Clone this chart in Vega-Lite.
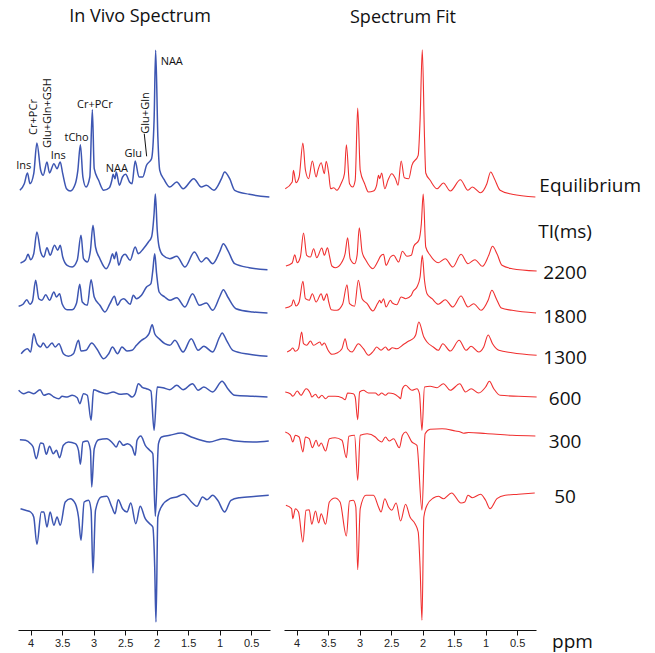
{
  "$schema": "https://vega.github.io/schema/vega-lite/v6.json",
  "background": "white",
  "padding": {"left": 15, "top": 8, "right": 2, "bottom": 2},
  "spacing": 10,
  "config": {
    "view": {"stroke": null},
    "font": "Open Sans",
    "title": {"fontSize": 18, "fontWeight": "normal", "color": "#111", "font": "Open Sans", "baseline": "alphabetic", "offset": 21, "anchor": "middle"},
    "axisX": {"labelOverlap": false, "labelFlush": false, "labelSeparation": 0}
  },
  "datasets": {
    "blue": [
      {"s":"Eq","ppm":4.17,"v":439.7},{"s":"Eq","ppm":4.10,"v":446.3},{"s":"Eq","ppm":4.05,"v":457},{"s":"Eq","ppm":4.01,"v":446.3},{"s":"Eq","ppm":3.95,"v":456.3},{"s":"Eq","ppm":3.90,"v":487},{"s":"Eq","ppm":3.84,"v":459.7},{"s":"Eq","ppm":3.80,"v":454.7},{"s":"Eq","ppm":3.74,"v":468},{"s":"Eq","ppm":3.70,"v":457},{"s":"Eq","ppm":3.63,"v":466.3},{"s":"Eq","ppm":3.58,"v":461.3},{"s":"Eq","ppm":3.53,"v":468},{"s":"Eq","ppm":3.49,"v":456.3},{"s":"Eq","ppm":3.43,"v":441.3},{"s":"Eq","ppm":3.37,"v":439},{"s":"Eq","ppm":3.29,"v":446.3},{"s":"Eq","ppm":3.25,"v":459.7},{"s":"Eq","ppm":3.21,"v":485.3},{"s":"Eq","ppm":3.17,"v":453},{"s":"Eq","ppm":3.12,"v":443},{"s":"Eq","ppm":3.06,"v":453},{"s":"Eq","ppm":3.02,"v":520.3},{"s":"Eq","ppm":2.99,"v":461.3},{"s":"Eq","ppm":2.92,"v":449.7},{"s":"Eq","ppm":2.84,"v":439.7},{"s":"Eq","ppm":2.75,"v":442.3},{"s":"Eq","ppm":2.71,"v":449.7},{"s":"Eq","ppm":2.69,"v":455.7},{"s":"Eq","ppm":2.66,"v":451.3},{"s":"Eq","ppm":2.64,"v":458},{"s":"Eq","ppm":2.59,"v":444.7},{"s":"Eq","ppm":2.54,"v":453},{"s":"Eq","ppm":2.49,"v":455.7},{"s":"Eq","ppm":2.43,"v":448},{"s":"Eq","ppm":2.39,"v":446.3},{"s":"Eq","ppm":2.34,"v":469},{"s":"Eq","ppm":2.28,"v":453},{"s":"Eq","ppm":2.22,"v":453},{"s":"Eq","ppm":2.16,"v":464.7},{"s":"Eq","ppm":2.08,"v":471.3},{"s":"Eq","ppm":2.04,"v":509.7},{"s":"Eq","ppm":2.015,"v":579.7},{"s":"Eq","ppm":1.98,"v":493},{"s":"Eq","ppm":1.95,"v":459.7},{"s":"Eq","ppm":1.88,"v":450.3},{"s":"Eq","ppm":1.79,"v":443},{"s":"Eq","ppm":1.68,"v":448},{"s":"Eq","ppm":1.58,"v":441.3},{"s":"Eq","ppm":1.41,"v":451.3},{"s":"Eq","ppm":1.29,"v":443},{"s":"Eq","ppm":1.21,"v":444.7},{"s":"Eq","ppm":1.09,"v":439.7},{"s":"Eq","ppm":0.97,"v":451.3},{"s":"Eq","ppm":0.92,"v":458},{"s":"Eq","ppm":0.84,"v":451.3},{"s":"Eq","ppm":0.76,"v":439.7},{"s":"Eq","ppm":0.53,"v":435.7},{"s":"Eq","ppm":0.21,"v":433},
      {"s":"2200","ppm":4.16,"v":367},{"s":"2200","ppm":4.08,"v":370.3},{"s":"2200","ppm":4.04,"v":375.7},{"s":"2200","ppm":4.00,"v":370.3},{"s":"2200","ppm":3.95,"v":376.3},{"s":"2200","ppm":3.90,"v":398},{"s":"2200","ppm":3.84,"v":378},{"s":"2200","ppm":3.79,"v":373},{"s":"2200","ppm":3.74,"v":382.3},{"s":"2200","ppm":3.69,"v":374.7},{"s":"2200","ppm":3.62,"v":384.7},{"s":"2200","ppm":3.57,"v":379.7},{"s":"2200","ppm":3.53,"v":384.7},{"s":"2200","ppm":3.49,"v":373},{"s":"2200","ppm":3.42,"v":364.7},{"s":"2200","ppm":3.34,"v":363},{"s":"2200","ppm":3.26,"v":369.7},{"s":"2200","ppm":3.20,"v":394.7},{"s":"2200","ppm":3.16,"v":371.3},{"s":"2200","ppm":3.10,"v":368},{"s":"2200","ppm":3.05,"v":379.7},{"s":"2200","ppm":3.01,"v":404.7},{"s":"2200","ppm":2.97,"v":383},{"s":"2200","ppm":2.90,"v":371.3},{"s":"2200","ppm":2.80,"v":361.3},{"s":"2200","ppm":2.74,"v":368},{"s":"2200","ppm":2.70,"v":376.3},{"s":"2200","ppm":2.67,"v":371.3},{"s":"2200","ppm":2.64,"v":378},{"s":"2200","ppm":2.60,"v":364.7},{"s":"2200","ppm":2.55,"v":373},{"s":"2200","ppm":2.50,"v":375.7},{"s":"2200","ppm":2.42,"v":369.7},{"s":"2200","ppm":2.34,"v":383},{"s":"2200","ppm":2.29,"v":376.3},{"s":"2200","ppm":2.21,"v":381.3},{"s":"2200","ppm":2.13,"v":388},{"s":"2200","ppm":2.08,"v":393},{"s":"2200","ppm":2.04,"v":416.3},{"s":"2200","ppm":2.02,"v":436},{"s":"2200","ppm":1.99,"v":399.7},{"s":"2200","ppm":1.96,"v":383},{"s":"2200","ppm":1.90,"v":374.7},{"s":"2200","ppm":1.79,"v":371.3},{"s":"2200","ppm":1.68,"v":373.7},{"s":"2200","ppm":1.55,"v":363},{"s":"2200","ppm":1.40,"v":378},{"s":"2200","ppm":1.29,"v":368},{"s":"2200","ppm":1.21,"v":372.3},{"s":"2200","ppm":1.11,"v":366.3},{"s":"2200","ppm":1.00,"v":378},{"s":"2200","ppm":0.94,"v":386.3},{"s":"2200","ppm":0.87,"v":379.7},{"s":"2200","ppm":0.76,"v":366.3},{"s":"2200","ppm":0.53,"v":362.3},{"s":"2200","ppm":0.24,"v":360.3},
      {"s":"1800","ppm":4.19,"v":323.7},{"s":"1800","ppm":4.12,"v":325.7},{"s":"1800","ppm":4.06,"v":330.3},{"s":"1800","ppm":4.01,"v":325.7},{"s":"1800","ppm":3.97,"v":329},{"s":"1800","ppm":3.92,"v":349.7},{"s":"1800","ppm":3.87,"v":331.3},{"s":"1800","ppm":3.82,"v":329.7},{"s":"1800","ppm":3.76,"v":335.3},{"s":"1800","ppm":3.70,"v":329.7},{"s":"1800","ppm":3.63,"v":338},{"s":"1800","ppm":3.59,"v":333},{"s":"1800","ppm":3.54,"v":336.3},{"s":"1800","ppm":3.50,"v":326.3},{"s":"1800","ppm":3.42,"v":320.3},{"s":"1800","ppm":3.34,"v":320.3},{"s":"1800","ppm":3.27,"v":327},{"s":"1800","ppm":3.22,"v":345.7},{"s":"1800","ppm":3.18,"v":328},{"s":"1800","ppm":3.10,"v":324.7},{"s":"1800","ppm":3.04,"v":350.3},{"s":"1800","ppm":2.99,"v":333},{"s":"1800","ppm":2.90,"v":324.7},{"s":"1800","ppm":2.82,"v":318},{"s":"1800","ppm":2.74,"v":326.3},{"s":"1800","ppm":2.67,"v":333.7},{"s":"1800","ppm":2.62,"v":324.7},{"s":"1800","ppm":2.57,"v":329.7},{"s":"1800","ppm":2.52,"v":331.3},{"s":"1800","ppm":2.42,"v":325.7},{"s":"1800","ppm":2.37,"v":334.7},{"s":"1800","ppm":2.32,"v":331.3},{"s":"1800","ppm":2.24,"v":334.7},{"s":"1800","ppm":2.16,"v":343},{"s":"1800","ppm":2.09,"v":346.3},{"s":"1800","ppm":2.06,"v":359.7},{"s":"1800","ppm":2.03,"v":376.3},{"s":"1800","ppm":2.00,"v":356.3},{"s":"1800","ppm":1.96,"v":338},{"s":"1800","ppm":1.87,"v":333},{"s":"1800","ppm":1.79,"v":329.7},{"s":"1800","ppm":1.68,"v":332.3},{"s":"1800","ppm":1.55,"v":323},{"s":"1800","ppm":1.43,"v":336.3},{"s":"1800","ppm":1.32,"v":324.7},{"s":"1800","ppm":1.21,"v":327},{"s":"1800","ppm":1.11,"v":319.7},{"s":"1800","ppm":1.00,"v":333},{"s":"1800","ppm":0.94,"v":340.3},{"s":"1800","ppm":0.87,"v":333},{"s":"1800","ppm":0.74,"v":321.3},{"s":"1800","ppm":0.47,"v":318},{"s":"1800","ppm":0.24,"v":317},
      {"s":"1300","ppm":4.15,"v":276.3},{"s":"1300","ppm":4.10,"v":279.7},{"s":"1300","ppm":4.05,"v":281.3},{"s":"1300","ppm":4.00,"v":278},{"s":"1300","ppm":3.95,"v":296.3},{"s":"1300","ppm":3.90,"v":286.3},{"s":"1300","ppm":3.84,"v":283},{"s":"1300","ppm":3.80,"v":287},{"s":"1300","ppm":3.74,"v":282.3},{"s":"1300","ppm":3.66,"v":287},{"s":"1300","ppm":3.61,"v":283},{"s":"1300","ppm":3.55,"v":286.3},{"s":"1300","ppm":3.48,"v":276.3},{"s":"1300","ppm":3.40,"v":273.7},{"s":"1300","ppm":3.32,"v":276.3},{"s":"1300","ppm":3.24,"v":289.7},{"s":"1300","ppm":3.20,"v":279},{"s":"1300","ppm":3.12,"v":279.7},{"s":"1300","ppm":3.03,"v":287},{"s":"1300","ppm":2.95,"v":281.3},{"s":"1300","ppm":2.84,"v":271.3},{"s":"1300","ppm":2.76,"v":276.3},{"s":"1300","ppm":2.70,"v":283},{"s":"1300","ppm":2.62,"v":276.3},{"s":"1300","ppm":2.55,"v":283},{"s":"1300","ppm":2.47,"v":279},{"s":"1300","ppm":2.39,"v":279.7},{"s":"1300","ppm":2.32,"v":284.7},{"s":"1300","ppm":2.24,"v":289.7},{"s":"1300","ppm":2.16,"v":293},{"s":"1300","ppm":2.12,"v":296.3},{"s":"1300","ppm":2.07,"v":305.3},{"s":"1300","ppm":2.03,"v":296.3},{"s":"1300","ppm":1.96,"v":291.3},{"s":"1300","ppm":1.87,"v":286.3},{"s":"1300","ppm":1.79,"v":284.7},{"s":"1300","ppm":1.71,"v":289.7},{"s":"1300","ppm":1.58,"v":278},{"s":"1300","ppm":1.45,"v":291.3},{"s":"1300","ppm":1.34,"v":279.7},{"s":"1300","ppm":1.25,"v":283.7},{"s":"1300","ppm":1.11,"v":278},{"s":"1300","ppm":1.00,"v":293},{"s":"1300","ppm":0.96,"v":297},{"s":"1300","ppm":0.89,"v":289.7},{"s":"1300","ppm":0.79,"v":279.7},{"s":"1300","ppm":0.53,"v":275.7},{"s":"1300","ppm":0.24,"v":273.7},
      {"s":"600","ppm":4.19,"v":239.7},{"s":"600","ppm":4.11,"v":236.3},{"s":"600","ppm":4.03,"v":238},{"s":"600","ppm":3.95,"v":236.3},{"s":"600","ppm":3.85,"v":240.3},{"s":"600","ppm":3.79,"v":234.7},{"s":"600","ppm":3.71,"v":236.3},{"s":"600","ppm":3.63,"v":233},{"s":"600","ppm":3.55,"v":231.3},{"s":"600","ppm":3.50,"v":233.7},{"s":"600","ppm":3.42,"v":233},{"s":"600","ppm":3.34,"v":234.7},{"s":"600","ppm":3.26,"v":232.3},{"s":"600","ppm":3.22,"v":226.3},{"s":"600","ppm":3.16,"v":236.3},{"s":"600","ppm":3.10,"v":234.7},{"s":"600","ppm":3.04,"v":209.7},{"s":"600","ppm":3.00,"v":240.3},{"s":"600","ppm":2.90,"v":238},{"s":"600","ppm":2.79,"v":236.3},{"s":"600","ppm":2.69,"v":238},{"s":"600","ppm":2.58,"v":235.7},{"s":"600","ppm":2.47,"v":236.3},{"s":"600","ppm":2.39,"v":233},{"s":"600","ppm":2.34,"v":236.3},{"s":"600","ppm":2.29,"v":246.3},{"s":"600","ppm":2.22,"v":242.3},{"s":"600","ppm":2.16,"v":241.3},{"s":"600","ppm":2.09,"v":239},{"s":"600","ppm":2.04,"v":199.7},{"s":"600","ppm":1.99,"v":243},{"s":"600","ppm":1.90,"v":242.3},{"s":"600","ppm":1.79,"v":240.3},{"s":"600","ppm":1.68,"v":244.7},{"s":"600","ppm":1.58,"v":240.3},{"s":"600","ppm":1.43,"v":246.3},{"s":"600","ppm":1.34,"v":239.7},{"s":"600","ppm":1.25,"v":243},{"s":"600","ppm":1.11,"v":238},{"s":"600","ppm":0.96,"v":248.7},{"s":"600","ppm":0.87,"v":241.3},{"s":"600","ppm":0.76,"v":234.7},{"s":"600","ppm":0.47,"v":233.7},{"s":"600","ppm":0.24,"v":233},
      {"s":"300","ppm":4.17,"v":190.3},{"s":"300","ppm":4.08,"v":189.7},{"s":"300","ppm":4.00,"v":186.3},{"s":"300","ppm":3.96,"v":183},{"s":"300","ppm":3.91,"v":171.3},{"s":"300","ppm":3.84,"v":187},{"s":"300","ppm":3.80,"v":186.3},{"s":"300","ppm":3.75,"v":175.7},{"s":"300","ppm":3.70,"v":183.7},{"s":"300","ppm":3.64,"v":176.3},{"s":"300","ppm":3.59,"v":179.7},{"s":"300","ppm":3.54,"v":172.3},{"s":"300","ppm":3.48,"v":184.7},{"s":"300","ppm":3.40,"v":188},{"s":"300","ppm":3.29,"v":186.3},{"s":"300","ppm":3.24,"v":179.7},{"s":"300","ppm":3.21,"v":165.7},{"s":"300","ppm":3.17,"v":188},{"s":"300","ppm":3.10,"v":189},{"s":"300","ppm":3.05,"v":179.7},{"s":"300","ppm":3.03,"v":143},{"s":"300","ppm":2.99,"v":181.3},{"s":"300","ppm":2.92,"v":190.3},{"s":"300","ppm":2.79,"v":191.3},{"s":"300","ppm":2.69,"v":186.3},{"s":"300","ppm":2.64,"v":183},{"s":"300","ppm":2.59,"v":189},{"s":"300","ppm":2.53,"v":184.7},{"s":"300","ppm":2.46,"v":186.3},{"s":"300","ppm":2.39,"v":183},{"s":"300","ppm":2.34,"v":174.7},{"s":"300","ppm":2.31,"v":189.7},{"s":"300","ppm":2.25,"v":194},{"s":"300","ppm":2.18,"v":184.7},{"s":"300","ppm":2.11,"v":179.7},{"s":"300","ppm":2.06,"v":176.3},{"s":"300","ppm":2.02,"v":113.7},{"s":"300","ppm":1.97,"v":186.3},{"s":"300","ppm":1.92,"v":193},{"s":"300","ppm":1.79,"v":194.7},{"s":"300","ppm":1.61,"v":197},{"s":"300","ppm":1.45,"v":193},{"s":"300","ppm":1.29,"v":189.7},{"s":"300","ppm":1.16,"v":188},{"s":"300","ppm":0.95,"v":191.3},{"s":"300","ppm":0.74,"v":189},{"s":"300","ppm":0.47,"v":188},{"s":"300","ppm":0.22,"v":189},
      {"s":"50","ppm":4.16,"v":121.3},{"s":"50","ppm":4.08,"v":119.7},{"s":"50","ppm":4.00,"v":118},{"s":"50","ppm":3.95,"v":113},{"s":"50","ppm":3.90,"v":85.7},{"s":"50","ppm":3.83,"v":118},{"s":"50","ppm":3.79,"v":118},{"s":"50","ppm":3.74,"v":103},{"s":"50","ppm":3.69,"v":118},{"s":"50","ppm":3.63,"v":104.7},{"s":"50","ppm":3.58,"v":113},{"s":"50","ppm":3.53,"v":104.7},{"s":"50","ppm":3.45,"v":128},{"s":"50","ppm":3.37,"v":131.3},{"s":"50","ppm":3.29,"v":126.3},{"s":"50","ppm":3.24,"v":113},{"s":"50","ppm":3.20,"v":89.7},{"s":"50","ppm":3.15,"v":128},{"s":"50","ppm":3.08,"v":129.7},{"s":"50","ppm":3.04,"v":119.7},{"s":"50","ppm":3.01,"v":57},{"s":"50","ppm":2.97,"v":119.7},{"s":"50","ppm":2.88,"v":133},{"s":"50","ppm":2.79,"v":133.7},{"s":"50","ppm":2.71,"v":123},{"s":"50","ppm":2.66,"v":116.3},{"s":"50","ppm":2.61,"v":130.3},{"s":"50","ppm":2.54,"v":121.3},{"s":"50","ppm":2.47,"v":118},{"s":"50","ppm":2.41,"v":127},{"s":"50","ppm":2.33,"v":106.3},{"s":"50","ppm":2.26,"v":123.7},{"s":"50","ppm":2.18,"v":111.3},{"s":"50","ppm":2.11,"v":106.3},{"s":"50","ppm":2.06,"v":103},{"s":"50","ppm":2.03,"v":63},{"s":"50","ppm":2.01,"v":8},{"s":"50","ppm":1.98,"v":113},{"s":"50","ppm":1.92,"v":123.7},{"s":"50","ppm":1.79,"v":131.3},{"s":"50","ppm":1.68,"v":133},{"s":"50","ppm":1.57,"v":135.7},{"s":"50","ppm":1.43,"v":127},{"s":"50","ppm":1.36,"v":123.7},{"s":"50","ppm":1.27,"v":133},{"s":"50","ppm":1.20,"v":130.3},{"s":"50","ppm":1.11,"v":134.7},{"s":"50","ppm":1.03,"v":129.7},{"s":"50","ppm":0.92,"v":118},{"s":"50","ppm":0.82,"v":129.7},{"s":"50","ppm":0.68,"v":132.3},{"s":"50","ppm":0.42,"v":133.7},{"s":"50","ppm":0.22,"v":134.7}
    ],
    "red": [
      {"s":"Eq","ppm":4.18,"v":441.3},{"s":"Eq","ppm":4.07,"v":448},{"s":"Eq","ppm":4.05,"v":459.7},{"s":"Eq","ppm":4.01,"v":447.3},{"s":"Eq","ppm":3.96,"v":453},{"s":"Eq","ppm":3.90,"v":487},{"s":"Eq","ppm":3.86,"v":460},{"s":"Eq","ppm":3.81,"v":451.3},{"s":"Eq","ppm":3.75,"v":469},{"s":"Eq","ppm":3.69,"v":453},{"s":"Eq","ppm":3.66,"v":460},{"s":"Eq","ppm":3.61,"v":467.3},{"s":"Eq","ppm":3.56,"v":456.3},{"s":"Eq","ppm":3.53,"v":468.7},{"s":"Eq","ppm":3.49,"v":456.3},{"s":"Eq","ppm":3.46,"v":441.3},{"s":"Eq","ppm":3.41,"v":442.3},{"s":"Eq","ppm":3.36,"v":439.7},{"s":"Eq","ppm":3.29,"v":447},{"s":"Eq","ppm":3.24,"v":456.3},{"s":"Eq","ppm":3.21,"v":485.3},{"s":"Eq","ppm":3.16,"v":446.3},{"s":"Eq","ppm":3.11,"v":443},{"s":"Eq","ppm":3.07,"v":449.7},{"s":"Eq","ppm":3.03,"v":522},{"s":"Eq","ppm":2.99,"v":459.7},{"s":"Eq","ppm":2.92,"v":446.3},{"s":"Eq","ppm":2.86,"v":438},{"s":"Eq","ppm":2.78,"v":439},{"s":"Eq","ppm":2.73,"v":444.7},{"s":"Eq","ppm":2.70,"v":454.7},{"s":"Eq","ppm":2.68,"v":451.3},{"s":"Eq","ppm":2.65,"v":457},{"s":"Eq","ppm":2.60,"v":441.3},{"s":"Eq","ppm":2.55,"v":449.7},{"s":"Eq","ppm":2.49,"v":456.3},{"s":"Eq","ppm":2.43,"v":451.3},{"s":"Eq","ppm":2.39,"v":444.7},{"s":"Eq","ppm":2.34,"v":469},{"s":"Eq","ppm":2.29,"v":452.3},{"s":"Eq","ppm":2.22,"v":451.3},{"s":"Eq","ppm":2.17,"v":464.7},{"s":"Eq","ppm":2.07,"v":474.7},{"s":"Eq","ppm":2.04,"v":509.7},{"s":"Eq","ppm":2.005,"v":580.3},{"s":"Eq","ppm":1.97,"v":493},{"s":"Eq","ppm":1.95,"v":457},{"s":"Eq","ppm":1.88,"v":449.7},{"s":"Eq","ppm":1.77,"v":441.3},{"s":"Eq","ppm":1.67,"v":447},{"s":"Eq","ppm":1.56,"v":439},{"s":"Eq","ppm":1.40,"v":450.3},{"s":"Eq","ppm":1.28,"v":439.7},{"s":"Eq","ppm":1.21,"v":443},{"s":"Eq","ppm":1.08,"v":437.3},{"s":"Eq","ppm":0.98,"v":446.3},{"s":"Eq","ppm":0.92,"v":458},{"s":"Eq","ppm":0.86,"v":451.3},{"s":"Eq","ppm":0.77,"v":439.7},{"s":"Eq","ppm":0.58,"v":435.7},{"s":"Eq","ppm":0.21,"v":433},
      {"s":"2200","ppm":4.17,"v":364},{"s":"2200","ppm":4.07,"v":367},{"s":"2200","ppm":4.03,"v":375.3},{"s":"2200","ppm":3.99,"v":367.3},{"s":"2200","ppm":3.94,"v":373},{"s":"2200","ppm":3.89,"v":397},{"s":"2200","ppm":3.84,"v":374.7},{"s":"2200","ppm":3.78,"v":373},{"s":"2200","ppm":3.73,"v":381.3},{"s":"2200","ppm":3.68,"v":372.3},{"s":"2200","ppm":3.60,"v":382},{"s":"2200","ppm":3.56,"v":374.7},{"s":"2200","ppm":3.51,"v":382.3},{"s":"2200","ppm":3.48,"v":374.7},{"s":"2200","ppm":3.44,"v":364},{"s":"2200","ppm":3.38,"v":362.3},{"s":"2200","ppm":3.28,"v":368},{"s":"2200","ppm":3.23,"v":376.3},{"s":"2200","ppm":3.19,"v":392.3},{"s":"2200","ppm":3.15,"v":371.3},{"s":"2200","ppm":3.08,"v":366.3},{"s":"2200","ppm":3.04,"v":374.7},{"s":"2200","ppm":3.005,"v":402.3},{"s":"2200","ppm":2.96,"v":378},{"s":"2200","ppm":2.90,"v":369.7},{"s":"2200","ppm":2.79,"v":361.3},{"s":"2200","ppm":2.71,"v":368.7},{"s":"2200","ppm":2.67,"v":373.7},{"s":"2200","ppm":2.62,"v":375.7},{"s":"2200","ppm":2.58,"v":364.7},{"s":"2200","ppm":2.51,"v":373},{"s":"2200","ppm":2.46,"v":374.7},{"s":"2200","ppm":2.38,"v":368},{"s":"2200","ppm":2.32,"v":378.7},{"s":"2200","ppm":2.25,"v":373.7},{"s":"2200","ppm":2.18,"v":374.7},{"s":"2200","ppm":2.14,"v":383.7},{"s":"2200","ppm":2.06,"v":389.7},{"s":"2200","ppm":2.02,"v":406.3},{"s":"2200","ppm":1.99,"v":436},{"s":"2200","ppm":1.95,"v":383},{"s":"2200","ppm":1.88,"v":374.7},{"s":"2200","ppm":1.75,"v":367.3},{"s":"2200","ppm":1.64,"v":371.3},{"s":"2200","ppm":1.52,"v":363},{"s":"2200","ppm":1.39,"v":375.7},{"s":"2200","ppm":1.28,"v":366.3},{"s":"2200","ppm":1.17,"v":370.3},{"s":"2200","ppm":1.05,"v":363.7},{"s":"2200","ppm":0.95,"v":374.7},{"s":"2200","ppm":0.89,"v":383.7},{"s":"2200","ppm":0.82,"v":376.3},{"s":"2200","ppm":0.74,"v":364.7},{"s":"2200","ppm":0.58,"v":361.3},{"s":"2200","ppm":0.19,"v":359},
      {"s":"1800","ppm":4.18,"v":322},{"s":"1800","ppm":4.08,"v":324.7},{"s":"1800","ppm":4.05,"v":330.3},{"s":"1800","ppm":4.01,"v":324},{"s":"1800","ppm":3.96,"v":328},{"s":"1800","ppm":3.90,"v":348.7},{"s":"1800","ppm":3.86,"v":331.3},{"s":"1800","ppm":3.80,"v":329.7},{"s":"1800","ppm":3.75,"v":336.3},{"s":"1800","ppm":3.69,"v":328},{"s":"1800","ppm":3.61,"v":336.3},{"s":"1800","ppm":3.57,"v":329.7},{"s":"1800","ppm":3.52,"v":336.3},{"s":"1800","ppm":3.49,"v":328},{"s":"1800","ppm":3.45,"v":320.3},{"s":"1800","ppm":3.36,"v":319.7},{"s":"1800","ppm":3.27,"v":325.7},{"s":"1800","ppm":3.20,"v":345.3},{"s":"1800","ppm":3.16,"v":326.3},{"s":"1800","ppm":3.08,"v":323.7},{"s":"1800","ppm":3.02,"v":349.7},{"s":"1800","ppm":2.96,"v":331.3},{"s":"1800","ppm":2.88,"v":326.3},{"s":"1800","ppm":2.79,"v":319},{"s":"1800","ppm":2.71,"v":327},{"s":"1800","ppm":2.68,"v":329.7},{"s":"1800","ppm":2.66,"v":327},{"s":"1800","ppm":2.62,"v":331.3},{"s":"1800","ppm":2.58,"v":323},{"s":"1800","ppm":2.51,"v":329.7},{"s":"1800","ppm":2.48,"v":327},{"s":"1800","ppm":2.41,"v":325.3},{"s":"1800","ppm":2.34,"v":333},{"s":"1800","ppm":2.27,"v":331.3},{"s":"1800","ppm":2.18,"v":334.7},{"s":"1800","ppm":2.15,"v":338.7},{"s":"1800","ppm":2.09,"v":343},{"s":"1800","ppm":2.04,"v":353},{"s":"1800","ppm":2.005,"v":374.7},{"s":"1800","ppm":1.97,"v":349.7},{"s":"1800","ppm":1.93,"v":336.3},{"s":"1800","ppm":1.85,"v":331.3},{"s":"1800","ppm":1.75,"v":325.7},{"s":"1800","ppm":1.64,"v":330.3},{"s":"1800","ppm":1.52,"v":323},{"s":"1800","ppm":1.39,"v":334},{"s":"1800","ppm":1.28,"v":323},{"s":"1800","ppm":1.19,"v":326.3},{"s":"1800","ppm":1.07,"v":319.7},{"s":"1800","ppm":0.96,"v":329.7},{"s":"1800","ppm":0.90,"v":339.7},{"s":"1800","ppm":0.83,"v":331.3},{"s":"1800","ppm":0.75,"v":322},{"s":"1800","ppm":0.58,"v":319.7},{"s":"1800","ppm":0.20,"v":317},
      {"s":"1300","ppm":4.15,"v":278},{"s":"1300","ppm":4.10,"v":279.7},{"s":"1300","ppm":4.06,"v":282},{"s":"1300","ppm":4.02,"v":278.7},{"s":"1300","ppm":3.97,"v":281.3},{"s":"1300","ppm":3.92,"v":298},{"s":"1300","ppm":3.89,"v":286.3},{"s":"1300","ppm":3.84,"v":284.7},{"s":"1300","ppm":3.78,"v":289},{"s":"1300","ppm":3.73,"v":284.7},{"s":"1300","ppm":3.63,"v":288},{"s":"1300","ppm":3.60,"v":284.7},{"s":"1300","ppm":3.56,"v":287},{"s":"1300","ppm":3.50,"v":279.7},{"s":"1300","ppm":3.44,"v":275.7},{"s":"1300","ppm":3.36,"v":277},{"s":"1300","ppm":3.28,"v":281.3},{"s":"1300","ppm":3.23,"v":291.3},{"s":"1300","ppm":3.19,"v":281.3},{"s":"1300","ppm":3.12,"v":278},{"s":"1300","ppm":3.02,"v":286.3},{"s":"1300","ppm":2.94,"v":281.3},{"s":"1300","ppm":2.86,"v":274.7},{"s":"1300","ppm":2.78,"v":279},{"s":"1300","ppm":2.73,"v":283},{"s":"1300","ppm":2.66,"v":279.7},{"s":"1300","ppm":2.59,"v":283},{"s":"1300","ppm":2.54,"v":279.7},{"s":"1300","ppm":2.48,"v":282.3},{"s":"1300","ppm":2.41,"v":281.3},{"s":"1300","ppm":2.30,"v":285.7},{"s":"1300","ppm":2.22,"v":289},{"s":"1300","ppm":2.14,"v":292},{"s":"1300","ppm":2.11,"v":295},{"s":"1300","ppm":2.06,"v":308},{"s":"1300","ppm":1.98,"v":293},{"s":"1300","ppm":1.93,"v":288},{"s":"1300","ppm":1.83,"v":283},{"s":"1300","ppm":1.75,"v":279.7},{"s":"1300","ppm":1.68,"v":286.3},{"s":"1300","ppm":1.56,"v":279},{"s":"1300","ppm":1.42,"v":289.7},{"s":"1300","ppm":1.31,"v":279.7},{"s":"1300","ppm":1.23,"v":283.7},{"s":"1300","ppm":1.11,"v":278},{"s":"1300","ppm":1.03,"v":283},{"s":"1300","ppm":0.96,"v":295},{"s":"1300","ppm":0.89,"v":286.3},{"s":"1300","ppm":0.79,"v":279.7},{"s":"1300","ppm":0.58,"v":277.3},{"s":"1300","ppm":0.19,"v":274.7},
      {"s":"600","ppm":4.18,"v":238},{"s":"600","ppm":4.10,"v":236.3},{"s":"600","ppm":4.06,"v":233.7},{"s":"600","ppm":3.99,"v":239},{"s":"600","ppm":3.93,"v":234.7},{"s":"600","ppm":3.85,"v":241.3},{"s":"600","ppm":3.78,"v":236.3},{"s":"600","ppm":3.76,"v":233},{"s":"600","ppm":3.70,"v":235.7},{"s":"600","ppm":3.65,"v":232},{"s":"600","ppm":3.60,"v":234.7},{"s":"600","ppm":3.54,"v":231.3},{"s":"600","ppm":3.49,"v":233.7},{"s":"600","ppm":3.39,"v":233.7},{"s":"600","ppm":3.28,"v":232.3},{"s":"600","ppm":3.23,"v":230.3},{"s":"600","ppm":3.19,"v":237},{"s":"600","ppm":3.10,"v":236.3},{"s":"600","ppm":3.07,"v":233},{"s":"600","ppm":3.03,"v":210.3},{"s":"600","ppm":3.00,"v":238},{"s":"600","ppm":2.94,"v":239.7},{"s":"600","ppm":2.86,"v":237},{"s":"600","ppm":2.75,"v":237},{"s":"600","ppm":2.70,"v":234.7},{"s":"600","ppm":2.65,"v":237},{"s":"600","ppm":2.59,"v":234.7},{"s":"600","ppm":2.54,"v":237},{"s":"600","ppm":2.46,"v":236.3},{"s":"600","ppm":2.38,"v":233},{"s":"600","ppm":2.35,"v":231.3},{"s":"600","ppm":2.32,"v":241.3},{"s":"600","ppm":2.27,"v":244.7},{"s":"600","ppm":2.17,"v":239.7},{"s":"600","ppm":2.09,"v":241.3},{"s":"600","ppm":2.05,"v":236.3},{"s":"600","ppm":2.01,"v":199.7},{"s":"600","ppm":1.97,"v":243},{"s":"600","ppm":1.88,"v":243.7},{"s":"600","ppm":1.77,"v":242.3},{"s":"600","ppm":1.67,"v":246.3},{"s":"600","ppm":1.56,"v":239.7},{"s":"600","ppm":1.41,"v":246.3},{"s":"600","ppm":1.32,"v":238},{"s":"600","ppm":1.23,"v":241.3},{"s":"600","ppm":1.11,"v":237},{"s":"600","ppm":1.00,"v":243},{"s":"600","ppm":0.94,"v":248.7},{"s":"600","ppm":0.87,"v":241.3},{"s":"600","ppm":0.77,"v":234.7},{"s":"600","ppm":0.48,"v":233.7},{"s":"600","ppm":0.19,"v":233},
      {"s":"300","ppm":4.18,"v":198},{"s":"300","ppm":4.10,"v":194.7},{"s":"300","ppm":4.06,"v":188},{"s":"300","ppm":4.02,"v":194.7},{"s":"300","ppm":3.96,"v":193},{"s":"300","ppm":3.90,"v":178},{"s":"300","ppm":3.86,"v":193},{"s":"300","ppm":3.80,"v":191.3},{"s":"300","ppm":3.75,"v":182.3},{"s":"300","ppm":3.69,"v":189.7},{"s":"300","ppm":3.65,"v":183.7},{"s":"300","ppm":3.61,"v":187},{"s":"300","ppm":3.54,"v":179},{"s":"300","ppm":3.48,"v":191.3},{"s":"300","ppm":3.39,"v":192.3},{"s":"300","ppm":3.28,"v":189.7},{"s":"300","ppm":3.21,"v":172.3},{"s":"300","ppm":3.17,"v":193.7},{"s":"300","ppm":3.08,"v":194.7},{"s":"300","ppm":3.03,"v":149.7},{"s":"300","ppm":2.99,"v":194.7},{"s":"300","ppm":2.88,"v":196.3},{"s":"300","ppm":2.75,"v":193},{"s":"300","ppm":2.70,"v":189.7},{"s":"300","ppm":2.65,"v":188},{"s":"300","ppm":2.59,"v":193},{"s":"300","ppm":2.53,"v":189},{"s":"300","ppm":2.46,"v":191.3},{"s":"300","ppm":2.37,"v":182.3},{"s":"300","ppm":2.32,"v":194.7},{"s":"300","ppm":2.27,"v":198},{"s":"300","ppm":2.17,"v":188},{"s":"300","ppm":2.09,"v":184.7},{"s":"300","ppm":2.01,"v":119.7},{"s":"300","ppm":1.96,"v":196.3},{"s":"300","ppm":1.88,"v":200.7},{"s":"300","ppm":1.69,"v":201.3},{"s":"300","ppm":1.48,"v":199},{"s":"300","ppm":1.40,"v":198},{"s":"300","ppm":1.35,"v":196.7},{"s":"300","ppm":1.27,"v":197.5},{"s":"300","ppm":1.00,"v":196.5},{"s":"300","ppm":0.58,"v":194.7},{"s":"300","ppm":0.21,"v":194},
      {"s":"50","ppm":4.17,"v":124.7},{"s":"50","ppm":4.08,"v":121.3},{"s":"50","ppm":4.06,"v":111.3},{"s":"50","ppm":4.02,"v":121.3},{"s":"50","ppm":3.97,"v":118},{"s":"50","ppm":3.90,"v":88},{"s":"50","ppm":3.85,"v":119.7},{"s":"50","ppm":3.80,"v":120.3},{"s":"50","ppm":3.76,"v":105.7},{"s":"50","ppm":3.70,"v":119},{"s":"50","ppm":3.65,"v":107},{"s":"50","ppm":3.61,"v":116.3},{"s":"50","ppm":3.54,"v":105.7},{"s":"50","ppm":3.48,"v":128},{"s":"50","ppm":3.39,"v":132},{"s":"50","ppm":3.31,"v":128},{"s":"50","ppm":3.21,"v":94},{"s":"50","ppm":3.16,"v":129},{"s":"50","ppm":3.10,"v":129.7},{"s":"50","ppm":3.06,"v":123},{"s":"50","ppm":3.03,"v":60.3},{"s":"50","ppm":2.99,"v":121.3},{"s":"50","ppm":2.90,"v":134.7},{"s":"50","ppm":2.78,"v":134.7},{"s":"50","ppm":2.70,"v":123},{"s":"50","ppm":2.66,"v":118},{"s":"50","ppm":2.60,"v":131.3},{"s":"50","ppm":2.54,"v":123},{"s":"50","ppm":2.49,"v":119.7},{"s":"50","ppm":2.42,"v":127},{"s":"50","ppm":2.35,"v":109},{"s":"50","ppm":2.27,"v":125.7},{"s":"50","ppm":2.20,"v":113},{"s":"50","ppm":2.12,"v":106.3},{"s":"50","ppm":2.07,"v":98},{"s":"50","ppm":2.04,"v":63},{"s":"50","ppm":2.01,"v":9.7},{"s":"50","ppm":1.98,"v":113},{"s":"50","ppm":1.93,"v":124.7},{"s":"50","ppm":1.83,"v":132},{"s":"50","ppm":1.75,"v":133.7},{"s":"50","ppm":1.67,"v":131.3},{"s":"50","ppm":1.54,"v":137},{"s":"50","ppm":1.39,"v":127},{"s":"50","ppm":1.33,"v":128},{"s":"50","ppm":1.28,"v":134.7},{"s":"50","ppm":1.21,"v":132.3},{"s":"50","ppm":1.08,"v":135.7},{"s":"50","ppm":1.00,"v":129.7},{"s":"50","ppm":0.93,"v":121.3},{"s":"50","ppm":0.82,"v":131.3},{"s":"50","ppm":0.69,"v":134.7},{"s":"50","ppm":0.48,"v":135.7},{"s":"50","ppm":0.22,"v":137}
    ],
    "ann": [
      {"t":"Ins","ppm":4.11,"v":464,"r":0},
      {"t":"Cr+PCr","ppm":3.95,"v":513,"r":1},
      {"t":"Glu+Gln+GSH","ppm":3.72,"v":517,"r":1},
      {"t":"Ins","ppm":3.56,"v":474,"r":0},
      {"t":"tCho","ppm":3.27,"v":492,"r":0},
      {"t":"Cr+PCr","ppm":2.98,"v":525,"r":0},
      {"t":"NAA","ppm":2.63,"v":461,"r":0},
      {"t":"Glu","ppm":2.37,"v":476,"r":0},
      {"t":"Glu+Gln","ppm":2.17,"v":517,"r":1},
      {"t":"NAA","ppm":1.76,"v":568,"r":0}
    ],
    "lead": [{"ppm":2.196,"v":496.3,"ppm2":2.158,"v2":473.7}],
    "labels": [
      {"t":"Equilibrium","ppm":-0.66,"v":438.3},
      {"t":"TI(ms)","ppm":-0.262,"v":392},
      {"t":"2200","ppm":-0.262,"v":351},
      {"t":"1800","ppm":-0.262,"v":307},
      {"t":"1300","ppm":-0.262,"v":266.5},
      {"t":"600","ppm":-0.262,"v":225},
      {"t":"300","ppm":-0.262,"v":182.5},
      {"t":"50","ppm":-0.262,"v":127.5},
      {"t":"ppm","ppm":-0.38,"v":-17.5}
    ]
  },
  "hconcat": [
    {
      "width": 252, "height": 580,
      "title": {"text": "In Vivo Spectrum", "dx": -4},
      "layer": [
        {
          "data": {"name": "blue"},
          "mark": {"type": "line", "color": "#3d56b2", "strokeWidth": 1.5, "interpolate": "monotone", "clip": false},
          "encoding": {
            "x": {"field": "ppm", "type": "quantitative", "scale": {"domain": [0.2, 4.2], "reverse": true, "nice": false, "zero": false},
                  "axis": {"title": null, "values": [4, 3.5, 3, 2.5, 2, 1.5, 1, 0.5], "labelExpr": "datum.value == 4 ? '4' : datum.value == 3 ? '3' : datum.value == 2 ? '2' : datum.value == 1 ? '1' : datum.label", "grid": false, "tickSize": 5, "labelFontSize": 11, "labelFont": "Liberation Sans", "labelColor": "#222", "domainColor": "#111", "tickColor": "#111", "labelPadding": 2, "labelOverlap": false, "labelFlush": false}},
            "y": {"field": "v", "type": "quantitative", "scale": {"domain": [0, 580], "nice": false, "zero": false}, "axis": null},
            "detail": {"field": "s"}
          }
        },
        {
          "data": {"name": "ann"},
          "transform": [{"filter": "datum.r == 0"}],
          "mark": {"type": "text", "fontSize": 11, "font": "Open Sans", "color": "#111", "baseline": "middle", "align": "center"},
          "encoding": {
            "x": {"field": "ppm", "type": "quantitative", "axis": {"title": null, "values": [4, 3.5, 3, 2.5, 2, 1.5, 1, 0.5], "labelOverlap": false}},
            "y": {"field": "v", "type": "quantitative"},
            "text": {"field": "t"}
          }
        },
        {
          "data": {"name": "ann"},
          "transform": [{"filter": "datum.r == 1"}],
          "mark": {"type": "text", "fontSize": 11, "font": "Open Sans", "color": "#111", "baseline": "middle", "align": "center", "angle": 270},
          "encoding": {
            "x": {"field": "ppm", "type": "quantitative", "axis": {"title": null, "values": [4, 3.5, 3, 2.5, 2, 1.5, 1, 0.5], "labelOverlap": false}},
            "y": {"field": "v", "type": "quantitative"},
            "text": {"field": "t"}
          }
        },
        {
          "data": {"name": "lead"},
          "mark": {"type": "rule", "color": "#111", "strokeWidth": 1},
          "encoding": {
            "x": {"field": "ppm", "type": "quantitative", "axis": {"title": null, "values": [4, 3.5, 3, 2.5, 2, 1.5, 1, 0.5], "labelOverlap": false}},
            "x2": {"field": "ppm2"},
            "y": {"field": "v", "type": "quantitative"},
            "y2": {"field": "v2"}
          }
        }
      ]
    },
    {
      "width": 252, "height": 580,
      "title": {"text": "Spectrum Fit", "dx": -7},
      "layer": [
        {
          "data": {"name": "red"},
          "mark": {"type": "line", "color": "#f03030", "strokeWidth": 1.1, "interpolate": "monotone", "clip": false},
          "encoding": {
            "x": {"field": "ppm", "type": "quantitative", "scale": {"domain": [0.2, 4.2], "reverse": true, "nice": false, "zero": false},
                  "axis": {"title": null, "values": [4, 3.5, 3, 2.5, 2, 1.5, 1, 0.5], "labelExpr": "datum.value == 4 ? '4' : datum.value == 3 ? '3' : datum.value == 2 ? '2' : datum.value == 1 ? '1' : datum.label", "grid": false, "tickSize": 5, "labelFontSize": 11, "labelFont": "Liberation Sans", "labelColor": "#222", "domainColor": "#111", "tickColor": "#111", "labelPadding": 2, "labelOverlap": false, "labelFlush": false}},
            "y": {"field": "v", "type": "quantitative", "scale": {"domain": [0, 580], "nice": false, "zero": false}, "axis": null},
            "detail": {"field": "s"}
          }
        },
        {
          "data": {"name": "labels"},
          "mark": {"type": "text", "fontSize": 19, "font": "Open Sans", "color": "#111", "baseline": "alphabetic", "align": "center"},
          "encoding": {
            "x": {"field": "ppm", "type": "quantitative", "axis": {"title": null, "values": [4, 3.5, 3, 2.5, 2, 1.5, 1, 0.5], "labelOverlap": false}},
            "y": {"field": "v", "type": "quantitative"},
            "text": {"field": "t"}
          }
        }
      ]
    }
  ]
}
